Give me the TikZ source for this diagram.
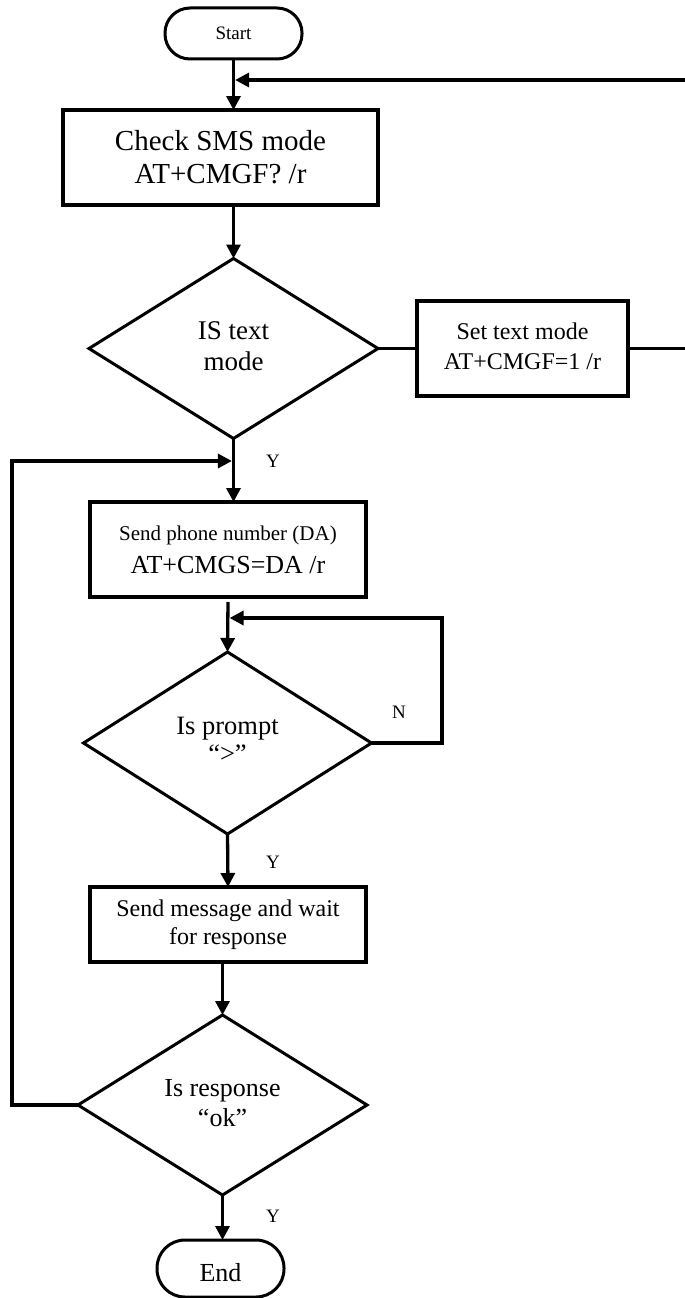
\documentclass[tikz,border=0pt]{standalone}
\usepackage{fontspec}
\setmainfont{Liberation Serif}
\usetikzlibrary{shapes.geometric,arrows.meta}
\newcommand{\liftup}[2]{\raisebox{#1}{\begin{tabular}{@{}c@{}}#2\end{tabular}}}
\begin{document}
\begin{tikzpicture}[x=1pt,y=-1pt,
  every node/.style={inner sep=0pt, outer sep=0pt},
  box/.style={draw, line width=3.3pt, rectangle, align=center},
  term/.style={draw, line width=3pt, rectangle, rounded corners=25pt, align=center},
  decision/.style={draw, line width=3pt, diamond, align=center},
  conn/.style={line width=3.3pt},
  arr/.style={line width=3.3pt, -{Triangle[length=14pt,width=14pt]}},
  lbl/.style={font=\fontsize{19}{22}\selectfont}
]
\useasboundingbox (0,0) rectangle (685,1298);

% nodes
\node[term, minimum width=137pt, minimum height=51pt, font=\fontsize{19}{22}\selectfont] (start) at (233.5,33.5) {Start};
\node[box, minimum width=315pt, minimum height=95pt, font=\fontsize{29}{33}\selectfont] (check) at (220.5,157.5) {Check SMS mode\\AT+CMGF? /r};
\node[decision, minimum width=289pt, minimum height=180pt, font=\fontsize{27}{31}\selectfont] (d1) at (233.5,348.5) {\liftup{7pt}{IS text\\mode}};
\node[box, minimum width=211pt, minimum height=95pt, font=\fontsize{24}{30}\selectfont] (set) at (522.5,348.5) {\liftup{3pt}{Set text mode\\AT+CMGF=1 /r}};
\node[box, minimum width=276pt, minimum height=95pt, align=center] (sp) at (228,549.5) {{\fontsize{21}{24}\selectfont Send phone number (DA)}\\[10pt]{\fontsize{26}{28}\selectfont AT+CMGS=DA /r}};
\node[decision, minimum width=288pt, minimum height=182pt, font=\fontsize{26.5}{28}\selectfont] (d2) at (227.5,743) {\liftup{9pt}{Is prompt\\“>”}};
\node[box, minimum width=276pt, minimum height=75pt, font=\fontsize{24}{28}\selectfont] (sm) at (228,924.5) {Send message and wait\\for response};
\node[decision, minimum width=289pt, minimum height=180pt, font=\fontsize{26}{30}\selectfont] (d3) at (222.5,1105) {\liftup{8pt}{Is response\\“ok”}};
\node[term, minimum width=127pt, minimum height=57pt, rounded corners=28pt, text height=26pt, text depth=0pt, font=\fontsize{26}{28}\selectfont] (end) at (220.5,1268.5) {End};

% free-end coordinates
\coordinate (mergeR) at (685,80);
\coordinate (setR) at (685,348.5);
\coordinate (loopTL) at (12,461);
\coordinate (loopR) at (442,618);

% labels
\node[lbl] (y1) at (273,461) {Y};
\node[lbl] (n2) at (399,712) {N};
\node[lbl] (y2) at (273,862) {Y};
\node[lbl] (y3) at (273,1216) {Y};

% connectors
\draw[arr] (start.south) -- (start.south |- check.north);
\draw[arr, shorten >=1.6pt] (mergeR) -- (start.south |- mergeR);
\draw[arr] (d1.north |- check.south) -- (d1.north);
\draw[conn] (d1.east) -- (set.west);
\draw[conn] (set.east) -- (setR);
\draw[arr] (d1.south) -- (d1.south |- sp.north);
\draw[arr, shorten >=1.6pt] (d3.west) -| (loopTL) -- (d1.south |- loopTL);
\draw[arr] ([yshift=-5pt]sp.south) -- (d2.north);
\draw[arr, shorten >=1.6pt] (d2.east) -| (loopR) -- (sp.south |- loopR);
\draw[arr] (d2.south) -- (sm.north);
\draw[arr] (d3.north |- sm.south) -- (d3.north);
\draw[arr] (d3.south) -- (d3.south |- end.north);
\end{tikzpicture}
\end{document}
